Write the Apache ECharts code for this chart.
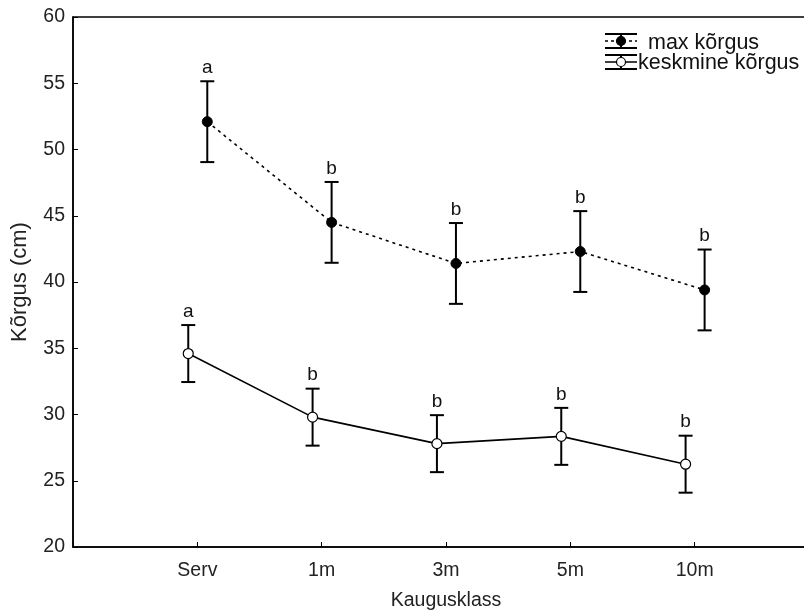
<!DOCTYPE html>
<html>
<head>
<meta charset="utf-8">
<script src="https://cdn.jsdelivr.net/npm/echarts@6/dist/echarts.min.js"></script>
<style>
  html, body { margin: 0; padding: 0; background: #fff; }
  #chart { width: 804px; height: 613px; }
</style>
</head>
<body>
<div id="chart"></div>
<script>
// chart data
const categories = ['Serv', '1m', '3m', '5m', '10m'];
const maxMean = [52.1, 44.5, 41.4, 42.3, 39.4];
const maxErr = [3.05, 3.05, 3.05, 3.05, 3.05];
const avgMean = [34.6, 29.8, 27.8, 28.35, 26.25];
const avgErr = [2.15, 2.15, 2.15, 2.15, 2.15];
const maxLetters = ['a', 'b', 'b', 'b', 'b'];
const avgLetters = ['a', 'b', 'b', 'b', 'b'];
const yTicks = [20, 25, 30, 35, 40, 45, 50, 55, 60];

const FONT = '"Liberation Sans", Arial, sans-serif';
const maxShift = 0.08;   // points of the two series sit a little apart
const avgShift = -0.073;

const chart = echarts.init(document.getElementById('chart'));

const pts = (vals, shift) => vals.map((v, i) => [i + 1 + shift, v]);
const bars = (vals, errs, letters, shift) =>
  vals.map((v, i) => [i + 1 + shift, v - errs[i], v + errs[i], letters[i]]);

function renderErr(params, api) {
  const x = api.value(0);
  const lo = api.coord([x, api.value(1)]);
  const hi = api.coord([x, api.value(2)]);
  const cap = 7;
  const style = { stroke: '#000', lineWidth: 2 };
  return {
    type: 'group',
    children: [
      { type: 'line', shape: { x1: lo[0], y1: lo[1], x2: hi[0], y2: hi[1] }, style },
      { type: 'line', shape: { x1: lo[0] - cap, y1: lo[1], x2: lo[0] + cap, y2: lo[1] }, style },
      { type: 'line', shape: { x1: hi[0] - cap, y1: hi[1], x2: hi[0] + cap, y2: hi[1] }, style },
      {
        type: 'text',
        style: {
          x: hi[0], y: hi[1] - 4, text: api.value(3),
          fill: '#111', font: '19px ' + FONT, align: 'center', verticalAlign: 'bottom'
        }
      }
    ]
  };
}

// legend drawn by hand (error bar glyph)
function legendIcon(y, dashed, filled) {
  const cx = 621;
  const ls = { stroke: '#000', lineWidth: 2 };
  return [
    { type: 'line', shape: { x1: 605, y1: y - 7, x2: 637, y2: y - 7 }, style: ls },
    { type: 'line', shape: { x1: 605, y1: y + 7, x2: 637, y2: y + 7 }, style: ls },
    { type: 'line', shape: { x1: cx, y1: y - 7, x2: cx, y2: y + 7 }, style: ls },
    { type: 'line', shape: { x1: 605, y1: y, x2: 637, y2: y },
      style: { stroke: '#000', lineWidth: 1.5, lineDash: dashed ? [3, 3] : null } },
    { type: 'circle', shape: { cx: cx, cy: y, r: 4.5 },
      style: { fill: filled ? '#000' : '#fff', stroke: '#000', lineWidth: 1.2 } }
  ];
}

const option = {
  backgroundColor: '#fff',
  animation: false,
  grid: {
    left: 73, top: 17, bottom: 66, width: 746,
    outerBoundsMode: 'none', containLabel: false,
    show: true, borderColor: '#000', borderWidth: 1.5, backgroundColor: 'transparent'
  },
  xAxis: {
    type: 'value', min: 0, max: 6, interval: 1,
    name: 'Kaugusklass', nameLocation: 'middle', nameGap: 44,
    nameTextStyle: { fontFamily: FONT, fontSize: 19.5, color: '#222' },
    axisLine: { lineStyle: { color: '#000', width: 1.5 } },
    axisTick: { inside: true, length: 5, lineStyle: { color: '#000' } },
    splitLine: { show: false },
    axisLabel: {
      margin: 14, fontFamily: FONT, fontSize: 19.5, color: '#222',
      formatter: v => categories[v - 1] || ''
    }
  },
  yAxis: {
    type: 'value', min: yTicks[0], max: yTicks[yTicks.length - 1], interval: 5,
    name: 'Kõrgus (cm)', nameLocation: 'middle', nameGap: 42,
    nameTextStyle: { fontFamily: FONT, fontSize: 22, color: '#222' },
    axisLine: { show: true, lineStyle: { color: '#000', width: 1.5 } },
    axisTick: { show: true, inside: true, length: 5, lineStyle: { color: '#000' } },
    splitLine: { show: false },
    axisLabel: { margin: 8, fontFamily: FONT, fontSize: 19.5, color: '#222' }
  },
  series: [
    {
      type: 'custom', renderItem: renderErr, z: 2,
      data: bars(maxMean, maxErr, maxLetters, maxShift)
    },
    {
      type: 'custom', renderItem: renderErr, z: 2,
      data: bars(avgMean, avgErr, avgLetters, avgShift)
    },
    {
      name: 'max kõrgus', type: 'line', z: 3,
      data: pts(maxMean, maxShift),
      symbol: 'circle', symbolSize: 10,
      itemStyle: { color: '#000', borderColor: '#000', borderWidth: 1 },
      lineStyle: { color: '#000', width: 1.6, type: [3, 4] }
    },
    {
      name: 'keskmine kõrgus', type: 'line', z: 3,
      data: pts(avgMean, avgShift),
      symbol: 'circle', symbolSize: 10,
      itemStyle: { color: '#fff', borderColor: '#000', borderWidth: 1.2 },
      lineStyle: { color: '#000', width: 1.6 }
    }
  ],
  graphic: [
    ...legendIcon(41, true, true),
    { type: 'text', style: { x: 648, y: 43, text: 'max kõrgus', font: '21.5px ' + FONT, fill: '#111', verticalAlign: 'middle' } },
    ...legendIcon(62, false, false),
    { type: 'text', style: { x: 638, y: 63, text: 'keskmine kõrgus', font: '21.5px ' + FONT, fill: '#111', verticalAlign: 'middle' } }
  ]
};

chart.setOption(option);
</script>
</body>
</html>
